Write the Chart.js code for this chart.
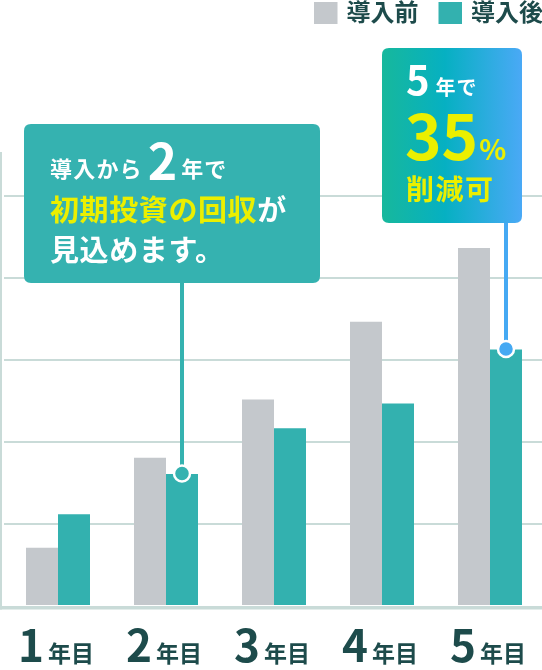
<!DOCTYPE html>
<html lang="ja">
<head>
<meta charset="utf-8">
<script src="https://cdn.jsdelivr.net/npm/chart.js@4.4.1/dist/chart.umd.min.js"></script>
<style>
  html, body { margin: 0; padding: 0; overflow: hidden; background: #fff; }
  #wrap { position: relative; width: 544px; height: 670px; }
</style>
</head>
<body>
<div id="wrap"><canvas id="chart"></canvas></div>
<script>
// データ
const categories = ['1年目', '2年目', '3年目', '4年目', '5年目'];
const seriesNames = ['導入前', '導入後'];
const beforeValues = [71, 181, 252, 347, 437];
const afterValues = [112, 161, 217, 247, 313];
const yStep = 100;
const yMax = 554;

const JP = '"Noto Sans CJK JP", "Noto Sans", sans-serif';
const GRAY = '#c4c8cc';
const TEAL = '#33b1af';
const BOX_TEAL = '#35b2b0';
const BLUE = '#45a9f3';
const GRID = '#c9dbd8';
const DARK = '#1d4b4b';
const YELLOW = '#ebef00';

function drawRuns(ctx, x, y, parts) {
  parts.forEach(p => {
    x += p.gap || 0;
    ctx.font = 'bold ' + p.size + 'px ' + JP;
    ctx.letterSpacing = (p.ls || 0) + 'px';
    ctx.fillStyle = p.color;
    ctx.fillText(p.text, x, y + (p.dy || 0));
    x += ctx.measureText(p.text).width;
  });
  ctx.letterSpacing = '0px';
  return x;
}

function roundBox(ctx, x, y, w, h, r) {
  ctx.beginPath();
  ctx.moveTo(x + r, y);
  ctx.lineTo(x + w - r, y);
  ctx.quadraticCurveTo(x + w, y, x + w, y + r);
  ctx.lineTo(x + w, y + h - r);
  ctx.quadraticCurveTo(x + w, y + h, x + w - r, y + h);
  ctx.lineTo(x + r, y + h);
  ctx.quadraticCurveTo(x, y + h, x, y + h - r);
  ctx.lineTo(x, y + r);
  ctx.quadraticCurveTo(x, y, x + r, y);
  ctx.closePath();
}

function dot(ctx, x, y, color) {
  ctx.beginPath();
  ctx.arc(x, y, 8, 0, Math.PI * 2);
  ctx.fillStyle = color;
  ctx.fill();
  ctx.lineWidth = 2.5;
  ctx.strokeStyle = '#fff';
  ctx.stroke();
}

// 軸線・ラベル・凡例・吹き出し
const extras = {
  id: 'extras',
  afterDatasetsDraw(chart) {
    const ctx = chart.ctx;
    const area = chart.chartArea;
    const xScale = chart.scales.x;
    ctx.save();

    // 下の軸線と左の線
    ctx.fillStyle = GRID;
    ctx.fillRect(0, area.bottom, chart.width, 3.5);
    ctx.fillRect(0, area.top, 2, area.bottom + 3.5 - area.top);

    // x ラベル（数字は大きく）
    ctx.textBaseline = 'alphabetic';
    categories.forEach((c, i) => {
      const m = c.match(/^(\d+)(.*)$/);
      ctx.font = 'bold 44px ' + JP;
      const w1 = ctx.measureText(m[1]).width;
      ctx.font = 'bold 23px ' + JP;
      const w2 = ctx.measureText(m[2]).width;
      const cx = xScale.getPixelForValue(i) - 2;
      drawRuns(ctx, cx - (w1 + 4 + w2) / 2, 662, [
        { text: m[1], size: 44, color: DARK },
        { text: m[2], size: 23, color: DARK, gap: 4 }
      ]);
    });

    // 凡例
    let lx = 314;
    chart.data.datasets.forEach(ds => {
      ctx.fillStyle = ds.backgroundColor;
      ctx.fillRect(lx, 2, 23.5, 22);
      lx = drawRuns(ctx, lx + 32.5, 21, [{ text: ds.label, size: 24, color: DARK }]) + 20;
    });

    // 吹き出し1
    const m1 = chart.getDatasetMeta(1).data[1];
    const b1 = { x: 24, y: 124, w: 296, h: 159 };
    ctx.strokeStyle = BOX_TEAL;
    ctx.lineWidth = 4;
    ctx.beginPath();
    ctx.moveTo(m1.x, b1.y + b1.h);
    ctx.lineTo(m1.x, m1.y);
    ctx.stroke();
    roundBox(ctx, b1.x, b1.y, b1.w, b1.h, 7);
    ctx.fillStyle = BOX_TEAL;
    ctx.fill();
    drawRuns(ctx, 50, 176.5, [
      { text: '導入から', size: 22, color: '#fff', ls: 1.2 },
      { text: '2', size: 50, color: '#fff', gap: 5, dy: 3.5 },
      { text: '年で', size: 22, color: '#fff', gap: 4, ls: 1 }
    ]);
    drawRuns(ctx, 50, 221, [
      { text: '初期投資の回収', size: 29, color: YELLOW, ls: 0.6 },
      { text: 'が', size: 29, color: '#fff', ls: 0.6 }
    ]);
    drawRuns(ctx, 50, 261, [{ text: '見込めます。', size: 29, color: '#fff', ls: 0.6 }]);
    dot(ctx, m1.x, m1.y - 0.5, BOX_TEAL);

    // 吹き出し2
    const m2 = chart.getDatasetMeta(1).data[4];
    const b2 = { x: 382, y: 48, w: 140, h: 175 };
    ctx.strokeStyle = BLUE;
    ctx.lineWidth = 4;
    ctx.beginPath();
    ctx.moveTo(m2.x, b2.y + b2.h);
    ctx.lineTo(m2.x, m2.y);
    ctx.stroke();
    const g = ctx.createLinearGradient(b2.x, 0, b2.x + b2.w, 0);
    g.addColorStop(0, '#17b89c');
    g.addColorStop(0.45, '#06b0c2');
    g.addColorStop(1, '#4aa9f6');
    roundBox(ctx, b2.x, b2.y, b2.w, b2.h, 7);
    ctx.fillStyle = g;
    ctx.fill();
    drawRuns(ctx, 406, 95, [
      { text: '5', size: 40, color: '#fff' },
      { text: '年で', size: 20, color: '#fff', gap: 6, ls: 1 }
    ]);
    drawRuns(ctx, 405, 160, [
      { text: '35', size: 62, color: YELLOW },
      { text: '%', size: 28, color: YELLOW, gap: 1 }
    ]);
    drawRuns(ctx, 406, 200, [{ text: '削減可', size: 28, color: YELLOW, ls: 1.5 }]);
    dot(ctx, m2.x, m2.y - 0.5, BLUE);

    ctx.restore();
  }
};

new Chart(document.getElementById('chart'), {
  type: 'bar',
  data: {
    labels: categories,
    datasets: [
      { label: seriesNames[0], data: beforeValues, backgroundColor: GRAY },
      { label: seriesNames[1], data: afterValues, backgroundColor: TEAL }
    ]
  },
  options: {
    responsive: true,
    maintainAspectRatio: false,
    animation: false,
    layout: { padding: { top: 152, bottom: 64, left: 4, right: 0 } },
    datasets: { bar: { categoryPercentage: 64 / 108, barPercentage: 1, borderWidth: 0 } },
    plugins: { legend: { display: false }, tooltip: { enabled: false } },
    scales: {
      x: { display: false },
      y: {
        min: 0,
        max: yMax,
        ticks: { display: false, stepSize: yStep },
        border: { display: false },
        grid: {
          drawTicks: false,
          lineWidth: 2,
          color: c => (c.tick && c.tick.value > 0 && c.tick.value % yStep === 0) ? GRID : 'rgba(0,0,0,0)'
        }
      }
    }
  },
  plugins: [extras]
});
</script>
</body>
</html>
